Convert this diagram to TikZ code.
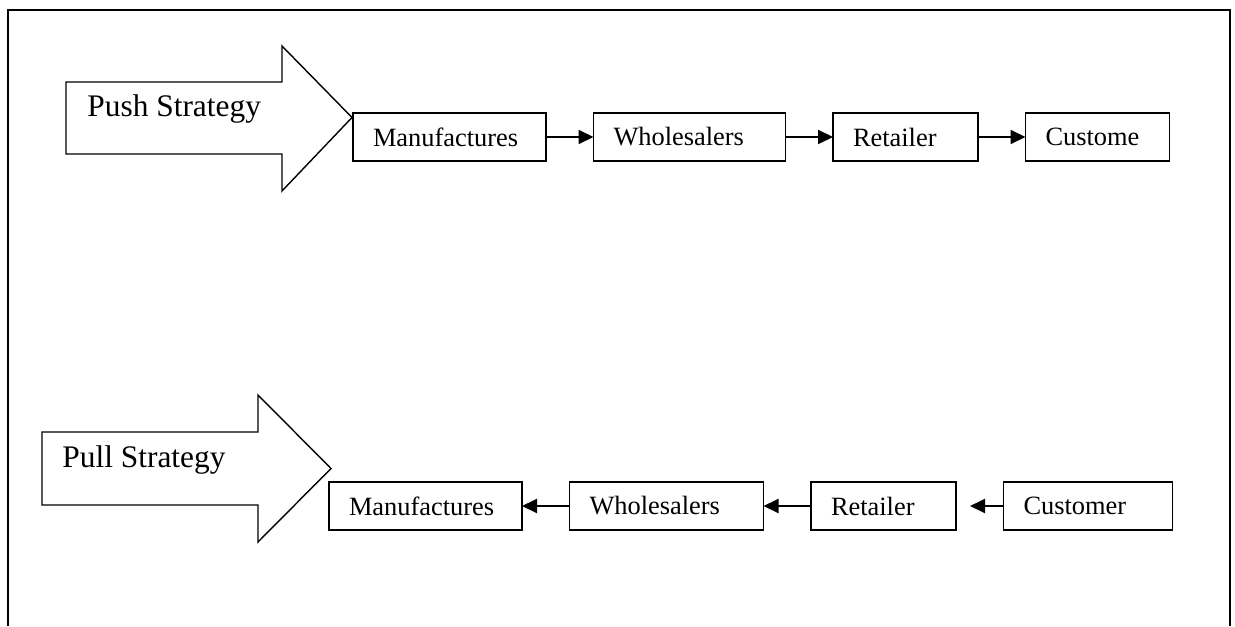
\documentclass[tikz,border=0pt]{standalone}
\usepackage{fontspec}
\setmainfont{Liberation Serif}
\usepackage{tikz}
\usetikzlibrary{arrows.meta, positioning}

\begin{document}
\begin{tikzpicture}[
  x=0.5pt, y=-0.5pt,
  node distance=23.75pt,
  box/.style={draw, line width=0.8pt, text width=#1, inner xsep=10pt, inner ysep=0pt, outer sep=0pt, minimum height=24pt, align=left, font=\fontsize{13.2pt}{15pt}\selectfont},
  bigarrow/.style={draw, line width=0.7pt},
  title/.style={anchor=base west, inner sep=0pt, font=\fontsize{15.7pt}{18pt}\selectfont},
  conn/.style={-{Triangle[length=7.5pt, width=7pt]}, line width=1pt}
]
  \useasboundingbox (0,0) rectangle (1235,626);
  \draw[line width=1pt] (8,626) -- (8,10) -- (1230,10) -- (1230,626);

  % push row
  \draw[bigarrow] (66,82) -- (282,82) -- (282,46) -- (352,117.5) -- (282,191) -- (282,154) -- (66,154) -- cycle;
  \node[title] (push) at (87,117) {Push Strategy};
  \node[box=76.5pt, anchor=west] (man1) at (353,137) {Manufactures};
  \node[box=76pt, right=of man1] (whole1) {Wholesalers};
  \node[box=52.5pt, right=of whole1] (ret1) {Retailer};
  \node[box=52pt, right=of ret1] (cust1) {Custome};

  \draw[conn] (man1) -- (whole1);
  \draw[conn] (whole1) -- (ret1);
  \draw[conn] (ret1) -- (cust1);

  % pull row
  \draw[bigarrow] (42,432) -- (258,432) -- (258,395) -- (331,468.5) -- (258,542) -- (258,505) -- (42,505) -- cycle;
  \node[title] (pull) at (62,467) {Pull Strategy};
  \node[box=76.5pt, anchor=west] (man2) at (329,506) {Manufactures};
  \node[box=77pt, right=of man2] (whole2) {Wholesalers};
  \node[box=52.5pt, right=of whole2] (ret2) {Retailer};
  \node[box=64.5pt, right=of ret2] (cust2) {Customer};

  \draw[conn] (whole2) -- (man2);
  \draw[conn] (ret2) -- (whole2);
  \draw[conn, shorten >=7pt] (cust2) -- (ret2);
\end{tikzpicture}
\end{document}
